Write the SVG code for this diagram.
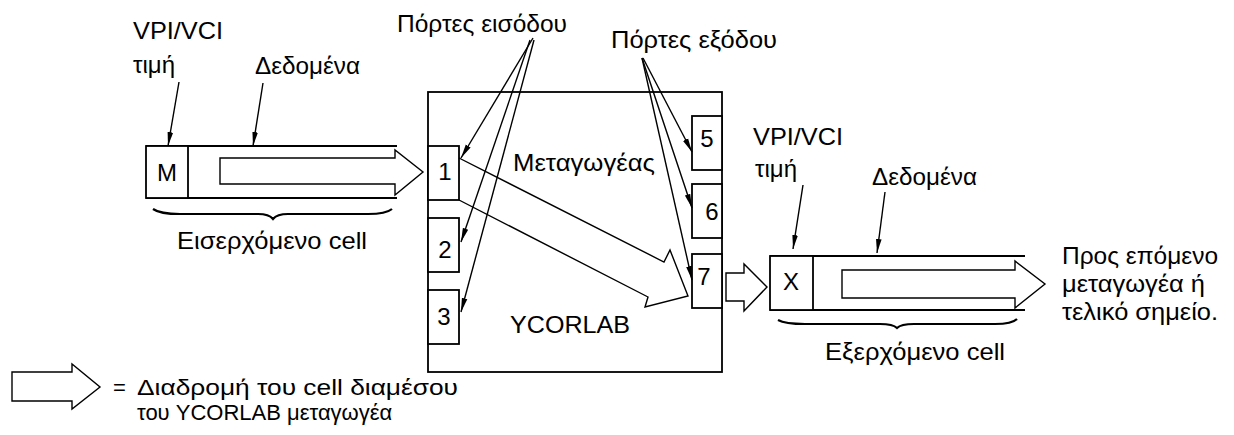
<svg xmlns="http://www.w3.org/2000/svg" width="1234" height="435" viewBox="0 0 1234 435">
<style>
text{font-family:"Liberation Sans",Arial,"DejaVu Sans",sans-serif;font-size:24px;fill:#000}
.lg{font-size:22px}
.ln{stroke:#000;stroke-width:1.8;fill:none}
.box{stroke:#000;stroke-width:1.8;fill:#fff}
.out{stroke:#000;stroke-width:1.4;fill:none;stroke-linejoin:miter}
.ptr{stroke:#000;stroke-width:1.4;fill:none;marker-end:url(#ah)}
.brace{stroke:#000;stroke-width:2.2;fill:none}
.num{text-anchor:middle}
</style>
<defs>
<marker id="ah" markerUnits="userSpaceOnUse" markerWidth="16" markerHeight="8" refX="14" refY="4" orient="auto">
<path d="M0,1.2 L14,4 L0,6.8 Z" fill="#000"/>
</marker>
</defs>
<rect width="1234" height="435" fill="#fff"/>

<g id="cell-in">
<line class="ln" x1="146" y1="146" x2="397" y2="146"/>
<line class="ln" x1="146" y1="198" x2="397" y2="198"/>
<rect class="box" x="146" y="146" width="42" height="52"/>
<text x="167" y="181" class="num">M</text>
<path class="out" d="M220,158 L395,158 L395,150 L423,172 L395,195 L395,184 L220,184 Z"/>
<path class="brace" d="M153,209 Q160,214 180,214 L258,214 Q269,214 273,219 Q277,214 288,214 L368,214 Q386,214 392,209"/>
<text x="177" y="249" textLength="190" lengthAdjust="spacingAndGlyphs">Εισερχόμενο cell</text>
</g>

<g id="switch">
<rect class="box" x="428" y="92" width="294" height="280"/>
<text x="513" y="171" textLength="142" lengthAdjust="spacingAndGlyphs">Μεταγωγέας</text>
<text x="510" y="333" textLength="120" lengthAdjust="spacingAndGlyphs">YCORLAB</text>
</g>

<g id="port1"><rect class="box" x="428" y="146" width="31" height="54"/><text x="445" y="180" class="num">1</text></g>
<g id="port2"><rect class="box" x="428" y="218" width="31" height="54"/><text x="445" y="258" class="num">2</text></g>
<g id="port3"><rect class="box" x="428" y="290" width="31" height="54"/><text x="444" y="325" class="num">3</text></g>
<g id="port5"><rect class="box" x="692" y="116" width="30" height="54"/><text x="707" y="147" class="num">5</text></g>
<g id="port6"><rect class="box" x="692" y="184" width="30" height="54"/><text x="712" y="220" class="num">6</text></g>
<g id="port7"><rect class="box" x="692" y="254" width="30" height="54"/><text x="704" y="285" class="num">7</text></g>

<g id="cell-out">
<line class="ln" x1="770" y1="256" x2="1025" y2="256"/>
<line class="ln" x1="770" y1="310" x2="1025" y2="310"/>
<rect class="box" x="770" y="256" width="43" height="54"/>
<text x="791" y="290" class="num">X</text>
<path class="out" d="M842,270 L1015,270 L1015,261 L1045,284 L1015,308 L1015,298 L842,298 Z"/>
<path class="brace" d="M778,320 Q785,324 805,324 L880,324 Q893,324 897,328 Q901,324 914,324 L995,324 Q1012,324 1017,319"/>
<text x="825" y="360" textLength="180" lengthAdjust="spacingAndGlyphs">Εξερχόμενο cell</text>
</g>

<g id="labels">
<text x="133" y="39" textLength="90" lengthAdjust="spacingAndGlyphs">VPI/VCI</text>
<text x="133" y="73" textLength="42" lengthAdjust="spacingAndGlyphs">τιμή</text>
<text x="255" y="74" textLength="105" lengthAdjust="spacingAndGlyphs">Δεδομένα</text>
<text x="397" y="32" textLength="170" lengthAdjust="spacingAndGlyphs">Πόρτες εισόδου</text>
<text x="611" y="48" textLength="166" lengthAdjust="spacingAndGlyphs">Πόρτες εξόδου</text>
<text x="753" y="145" textLength="90" lengthAdjust="spacingAndGlyphs">VPI/VCI</text>
<text x="755" y="177" textLength="42" lengthAdjust="spacingAndGlyphs">τιμή</text>
<text x="872" y="185" textLength="105" lengthAdjust="spacingAndGlyphs">Δεδομένα</text>
<text x="1062" y="264" textLength="156" lengthAdjust="spacingAndGlyphs">Προς επόμενο</text>
<text x="1062" y="292" textLength="143" lengthAdjust="spacingAndGlyphs">μεταγωγέα ή</text>
<text x="1062" y="320" textLength="156" lengthAdjust="spacingAndGlyphs">τελικό σημείο.</text>
</g>

<g id="legend">
<path class="out" d="M12,372 L72,372 L72,364 L100,387 L72,409 L72,401 L12,401 Z"/>
<text x="113" y="395" class="lg">=</text>
<text x="137" y="395" class="lg" textLength="321" lengthAdjust="spacingAndGlyphs">Διαδρομή του cell διαμέσου</text>
<text x="137" y="420" class="lg">του YCORLAB μεταγωγέα</text>
</g>

<g id="connectors">
<path class="out" d="M459,158 L664,262 L670,250 L688,296 L645,307 L648,297 L459,200"/>
<path class="out" d="M726,273 L744,273 L744,264 L767,287 L744,311 L744,301 L726,301 Z"/>
<line class="ptr" x1="179" y1="82" x2="168" y2="146"/>
<line class="ptr" x1="263" y1="83" x2="253" y2="146"/>
<line class="ptr" x1="533" y1="38" x2="461" y2="158"/>
<line class="ptr" x1="530" y1="40" x2="461" y2="242"/>
<line class="ptr" x1="534" y1="40" x2="461" y2="312"/>
<line class="ptr" x1="643" y1="58" x2="692" y2="152"/>
<line class="ptr" x1="642" y1="58" x2="692" y2="208"/>
<line class="ptr" x1="642" y1="58" x2="692" y2="280"/>
<line class="ptr" x1="803" y1="185" x2="793" y2="249"/>
<line class="ptr" x1="885" y1="192" x2="877" y2="253"/>
</g>
</svg>
